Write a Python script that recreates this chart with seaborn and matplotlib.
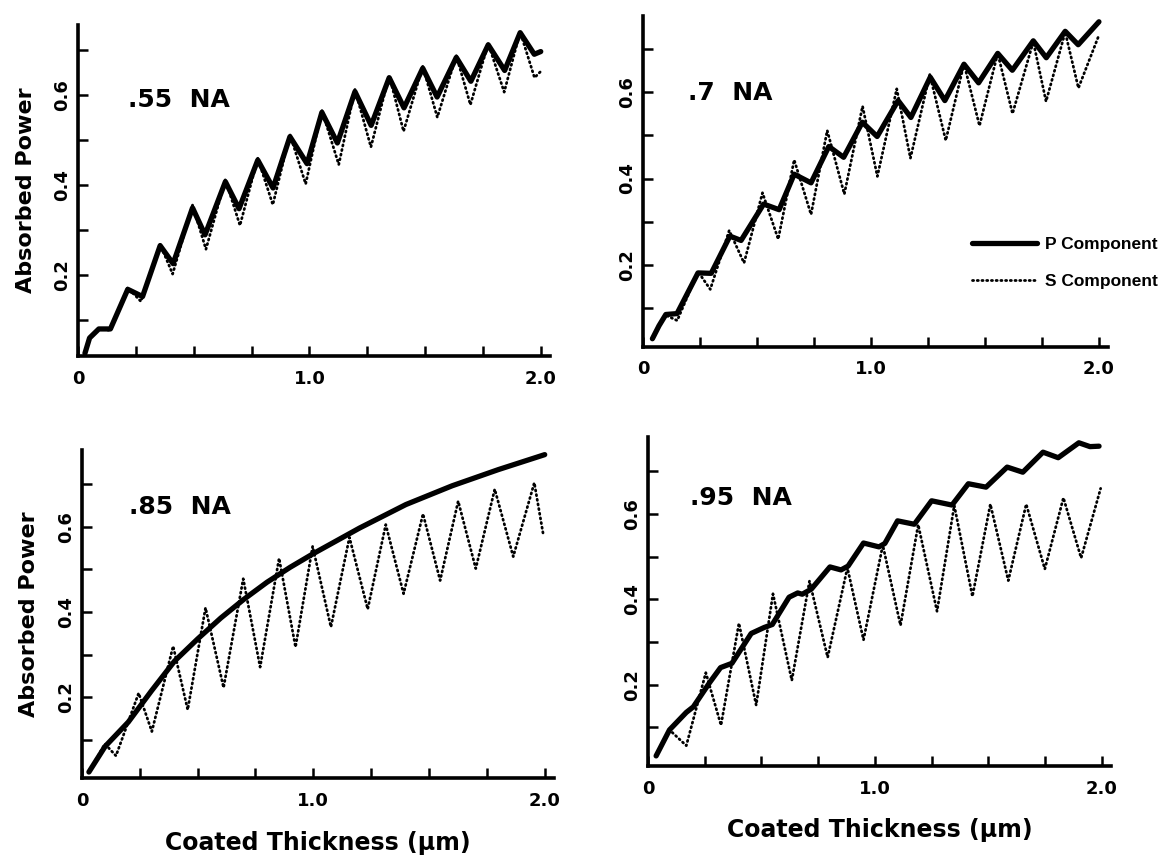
import numpy as np
import pandas as pd
import matplotlib
matplotlib.use("Agg")
import matplotlib.pyplot as plt
import seaborn as sns

# ---------------- data ----------------
panel_labels = [".55  NA", ".7  NA", ".85  NA", ".95  NA"]
series_names = ["P Component", "S Component"]

x_ticks = [0.0, 0.25, 0.5, 0.75, 1.0, 1.25, 1.5, 1.75, 2.0]
x_tick_labels = ["0", "", "", "", "1.0", "", "", "", "2.0"]
y_ticks = [0.1, 0.2, 0.3, 0.4, 0.5, 0.6, 0.7]
y_tick_labels = ["", "0.2", "", "0.4", "", "0.6", ""]

# .55 NA
p55_x = [0.03, 0.05, 0.09, 0.14, 0.215, 0.279, 0.355, 0.411, 0.495, 0.549, 0.637, 0.696,
         0.777, 0.843, 0.916, 0.99, 1.054, 1.121, 1.197, 1.267, 1.345, 1.409, 1.49, 1.552,
         1.635, 1.698, 1.773, 1.844, 1.911, 1.972, 2.0]
p55_y = [0.026, 0.06, 0.08, 0.08, 0.168, 0.152, 0.265, 0.225, 0.349, 0.289, 0.407, 0.347,
         0.455, 0.393, 0.507, 0.447, 0.561, 0.493, 0.607, 0.532, 0.638, 0.571, 0.659, 0.595,
         0.683, 0.63, 0.711, 0.654, 0.738, 0.69, 0.696]
s55_x = [0.03, 0.05, 0.09, 0.14, 0.215, 0.272, 0.355, 0.409, 0.495, 0.553, 0.637, 0.70,
         0.777, 0.842, 0.916, 0.984, 1.054, 1.127, 1.197, 1.266, 1.345, 1.407, 1.49, 1.553,
         1.635, 1.696, 1.773, 1.842, 1.911, 1.973, 2.0]
s55_y = [0.026, 0.06, 0.08, 0.077, 0.172, 0.141, 0.268, 0.202, 0.355, 0.257, 0.412, 0.31,
         0.459, 0.356, 0.512, 0.402, 0.566, 0.445, 0.612, 0.484, 0.643, 0.519, 0.663, 0.55,
         0.687, 0.578, 0.714, 0.606, 0.740, 0.638, 0.652]

# .7 NA
p70_x = [0.041, 0.07, 0.10, 0.149, 0.241, 0.299, 0.381, 0.43, 0.529, 0.597, 0.663, 0.737,
         0.815, 0.88, 0.962, 1.027, 1.119, 1.175, 1.26, 1.324, 1.408, 1.472, 1.556, 1.62,
         1.712, 1.769, 1.852, 1.909, 2.0]
p70_y = [0.03, 0.06, 0.086, 0.088, 0.182, 0.181, 0.267, 0.257, 0.341, 0.328, 0.41, 0.39,
         0.474, 0.449, 0.53, 0.497, 0.58, 0.541, 0.634, 0.58, 0.664, 0.621, 0.689, 0.65,
         0.718, 0.679, 0.74, 0.709, 0.762]
s70_x = [0.041, 0.07, 0.10, 0.15, 0.241, 0.295, 0.378, 0.443, 0.524, 0.593, 0.663, 0.737,
         0.808, 0.883, 0.963, 1.028, 1.113, 1.173, 1.258, 1.328, 1.408, 1.476, 1.556, 1.621,
         1.712, 1.768, 1.852, 1.91, 2.0]
s70_y = [0.03, 0.06, 0.084, 0.072, 0.185, 0.144, 0.28, 0.205, 0.367, 0.26, 0.443, 0.317,
         0.511, 0.364, 0.567, 0.405, 0.607, 0.447, 0.64, 0.488, 0.665, 0.522, 0.689, 0.55,
         0.716, 0.578, 0.738, 0.609, 0.731]

# .85 NA
p85_x = [0.03, 0.1, 0.2, 0.3, 0.4, 0.5, 0.6, 0.7, 0.8, 0.9, 1.0, 1.2, 1.4, 1.6, 1.8, 2.0]
p85_y = [0.025, 0.085, 0.142, 0.215, 0.285, 0.337, 0.386, 0.43, 0.47, 0.505, 0.537, 0.597,
         0.652, 0.696, 0.734, 0.769]
s85_x = [0.03, 0.099, 0.147, 0.245, 0.302, 0.394, 0.457, 0.534, 0.612, 0.697, 0.77, 0.852,
         0.923, 0.997, 1.076, 1.156, 1.235, 1.313, 1.39, 1.474, 1.548, 1.626, 1.702, 1.784,
         1.864, 1.955, 1.994]
s85_y = [0.025, 0.091, 0.063, 0.21, 0.12, 0.32, 0.171, 0.41, 0.223, 0.478, 0.271, 0.526,
         0.318, 0.554, 0.365, 0.575, 0.407, 0.605, 0.443, 0.63, 0.474, 0.66, 0.502, 0.688,
         0.53, 0.703, 0.581]

# .95 NA
p95_x = [0.036, 0.095, 0.169, 0.2, 0.272, 0.32, 0.37, 0.455, 0.512, 0.548, 0.622, 0.66,
         0.68, 0.72, 0.802, 0.851, 0.882, 0.95, 1.018, 1.044, 1.1, 1.174, 1.25, 1.34,
         1.412, 1.49, 1.583, 1.652, 1.741, 1.808, 1.899, 1.948, 1.988]
p95_y = [0.033, 0.094, 0.135, 0.148, 0.205, 0.24, 0.25, 0.32, 0.334, 0.341, 0.405, 0.415,
         0.412, 0.424, 0.476, 0.469, 0.478, 0.532, 0.523, 0.531, 0.584, 0.576, 0.631, 0.621,
         0.671, 0.663, 0.71, 0.698, 0.745, 0.732, 0.767, 0.758, 0.759]
s95_x = [0.036, 0.095, 0.169, 0.255, 0.322, 0.401, 0.477, 0.551, 0.634, 0.712, 0.792, 0.879,
         0.95, 1.035, 1.113, 1.191, 1.274, 1.35, 1.43, 1.509, 1.588, 1.667, 1.749, 1.831,
         1.909, 1.995]
s95_y = [0.033, 0.094, 0.057, 0.228, 0.105, 0.344, 0.152, 0.413, 0.21, 0.443, 0.264, 0.474,
         0.305, 0.527, 0.339, 0.575, 0.372, 0.62, 0.407, 0.623, 0.444, 0.623, 0.471, 0.638,
         0.497, 0.66]

panels = [
    (p55_x, p55_y, s55_x, s55_y),
    (p70_x, p70_y, s70_x, s70_y),
    (p85_x, p85_y, s85_x, s85_y),
    (p95_x, p95_y, s95_x, s95_y),
]

# ---------------- style ----------------
sns.set_style("ticks")
plt.rcParams["font.family"] = ["DejaVu Sans"]
plt.rcParams["font.weight"] = "bold"
plt.rcParams["axes.linewidth"] = 2.6
for key in ["text.color", "axes.labelcolor", "xtick.color", "ytick.color", "axes.edgecolor"]:
    plt.rcParams[key] = "black"

fig = plt.figure(figsize=(11.66, 8.59), dpi=100)

# [left, bottom, width, height] in figure fractions
boxes = [
    [0.0669, 0.5856, 0.4048, 0.3853],
    [0.5515, 0.5966, 0.3988, 0.3846],
    [0.0703, 0.0938, 0.4048, 0.3824],
    [0.5557, 0.1086, 0.3970, 0.3824],
]
ylims = [(0.02, 0.755), (0.012, 0.775), (0.01, 0.78), (0.01, 0.78)]
label_pos = [(0.105, 0.773), (0.097, 0.768), (0.10, 0.826), (0.09, 0.815)]

axes = []
for i, (px, py, sx, sy) in enumerate(panels):
    ax = fig.add_axes(boxes[i])
    axes.append(ax)
    dfp = pd.DataFrame({"thickness": px, "power": py})
    dfs = pd.DataFrame({"thickness": sx, "power": sy})
    sns.lineplot(data=dfp, x="thickness", y="power", ax=ax, color="black",
                 linewidth=3.8, sort=False, estimator=None, label=series_names[0],
                 legend=False)
    sns.lineplot(data=dfs, x="thickness", y="power", ax=ax, color="black",
                 linewidth=2.0, sort=False, estimator=None, label=series_names[1],
                 legend=False)
    lines = ax.get_lines()
    lines[0].set_solid_joinstyle("round")
    lines[0].set_solid_capstyle("round")
    lines[1].set_linestyle((0, (0.4, 1.3)))
    lines[1].set_dash_capstyle("round")

    ax.set_xlim(0, 2.04)
    ax.set_ylim(*ylims[i])
    sns.despine(ax=ax)
    ax.set_xticks(x_ticks)
    ax.set_xticklabels(x_tick_labels, fontsize=13, fontweight="bold")
    ax.set_yticks(y_ticks)
    ax.set_yticklabels(y_tick_labels, fontsize=13, fontweight="bold",
                       rotation=90, va="center")
    ax.tick_params(axis="both", direction="in", length=7, width=1.8, color="black")
    ax.tick_params(axis="x", pad=10)
    ax.tick_params(axis="y", pad=5)
    ax.set_xlabel("")
    ax.set_ylabel("")
    ax.text(label_pos[i][0], label_pos[i][1], panel_labels[i], transform=ax.transAxes,
            fontsize=18, fontweight="bold", ha="left", va="center")

for ax in (axes[0], axes[2]):
    ax.set_ylabel("Absorbed Power", fontsize=16, fontweight="bold")
    ax.yaxis.set_label_coords(-0.09, 0.5)
for ax in (axes[2], axes[3]):
    ax.set_xlabel("Coated Thickness (\u00b5m)", fontsize=17, fontweight="bold")
    ax.xaxis.set_label_coords(0.5, -0.16)

h = axes[1].get_lines()
fig.legend(handles=[h[0], h[1]], labels=series_names, loc="center left",
           bbox_to_anchor=(0.834, 0.694), frameon=False,
           handlelength=3.7, handletextpad=0.5, labelspacing=1.25,
           borderpad=0.0, borderaxespad=0.0,
           prop={"family": ["Liberation Sans", "DejaVu Sans"], "weight": "bold", "size": 12.5})

fig.savefig("out.png", dpi=100, facecolor="white")
